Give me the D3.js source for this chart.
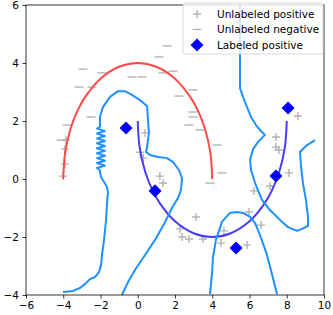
<!DOCTYPE html>
<html>
<head>
<meta charset="utf-8">
<script src="https://cdn.jsdelivr.net/npm/d3@7"></script>
<style>
  body { margin: 0; background: #fff; }
  svg { display: block; font-family: "DejaVu Sans", sans-serif; }
</style>
</head>
<body>
<div id="main"></div>
<script>
// tick values for both axes
const xTicks = [-6, -4, -2, 0, 2, 4, 6, 8, 10];
const yTicks = [-4, -2, 0, 2, 4, 6];

// the two "moons"
const upperMoon = [[-4, 0], [-3.9, 0.9], [-3.6, 1.75], [-3.2, 2.4], [-2.8, 2.85], [-2, 3.46], [-1, 3.87],
    [0, 4], [1, 3.87], [2, 3.46], [2.8, 2.85], [3.2, 2.4], [3.6, 1.75], [3.9, 0.9], [4, 0]];
const lowerMoon = [[0, 2], [0.1, 1.1], [0.4, 0.25], [0.8, -0.4], [1.2, -0.85], [2, -1.46], [3, -1.87],
    [4, -2], [5, -1.87], [6, -1.46], [6.8, -0.85], [7.2, -0.4], [7.6, 0.25], [7.9, 1.1], [8, 2]];

// unlabeled positive (+) points
const unlabeledPos = [[0.39, 1.59], [0.12, 0.92], [0.3, 0.72], [1.19, 0.1], [1.36, -0.14], [3.13, -1.31],
    [2.27, -1.72], [2.38, -2.0], [2.75, -2.07], [3.5, -2.07], [4.47, -2.21], [4.63, -1.79], [5.87, -2.28],
    [5.97, -1.14], [6.62, -1.59], [6.24, -0.41], [7.1, -0.24], [8.12, 0.21], [8.6, 2.17], [7.42, 1.45],
    [7.42, 1.1], [7.58, 1.0], [-3.85, 1.34], [-3.91, 1.03], [-3.91, 0.52], [-4.01, 0.1]];

// unlabeled negative (-) points
const unlabeledNeg = [[-2.94, 3.79], [-1.92, 3.66], [-3.15, 3.17], [-2.46, 3.17], [-0.31, 3.52], [0.23, 3.52],
    [1.14, 4.21], [1.57, 4.59], [1.36, 3.66], [1.89, 3.72], [2.97, 3.07], [2.21, 2.86], [2.97, 2.31],
    [2.97, 2.14], [2.75, 1.86], [3.34, 1.69], [4.25, 1.17], [-2.51, 2.14], [-3.8, 1.86], [-4.12, 1.34],
    [4.52, 0.21], [3.88, -0.14]];

// labeled positive points
const labeledPos = [[-0.63, 1.76], [0.93, -0.41], [5.28, -2.38], [7.42, 0.1], [8.07, 2.45]];

// decision boundary contours
const contourA = [[-4.01, -3.9], [-3.48, -3.86], [-3.1, -3.76], [-2.78, -3.59], [-2.56, -3.45], [-2.3, -3.38],
    [-2.08, -3.21], [-1.97, -2.97], [-1.92, -2.62], [-1.81, -2.1], [-1.7, -1.41], [-1.65, -0.83],
    [-1.6, -0.45], [-1.65, -0.28], [-1.81, -0.1], [-1.97, 0.07], [-2.03, 0.24],
    [-2.03, 0.3], [-2.19, 0.38], [-1.76, 0.46], [-2.19, 0.55], [-1.76, 0.63], [-2.19, 0.72], [-1.76, 0.8],
    [-2.19, 0.89], [-1.76, 0.97], [-2.19, 1.06], [-1.76, 1.14], [-2.19, 1.23], [-1.76, 1.31], [-2.19, 1.4],
    [-1.76, 1.48], [-2.19, 1.57], [-1.76, 1.65], [-2.19, 1.74], [-2.03, 1.8],
    [-2.03, 2.14], [-1.87, 2.48], [-1.49, 2.83], [-1.06, 3.03], [-0.68, 3.03], [-0.31, 2.9], [0.12, 2.72],
    [0.5, 2.52], [0.55, 2.03], [0.6, 1.59], [0.5, 1.1], [0.44, 0.93], [0.66, 0.83], [1.09, 0.76],
    [1.57, 0.72], [1.89, 0.59], [2.21, 0.31], [2.38, 0.03], [2.32, -0.38], [2.16, -0.66], [1.89, -0.93],
    [1.68, -1.21], [1.41, -1.55], [0.93, -2.1], [0.39, -2.62], [-0.15, -3.14], [-0.52, -3.55], [-0.85, -4.0]];
const contourB = [[5.49, 6.0], [5.49, 3.14], [5.65, 2.83], [5.87, 2.48], [6.08, 2.14], [6.35, 1.86],
    [6.56, 1.69], [6.83, 1.52], [6.46, 1.28], [6.19, 1.03], [6.03, 0.66], [6.08, 0.31], [6.3, -0.14],
    [6.67, -0.72], [7.1, -1.07], [7.64, -1.41], [8.07, -1.66], [8.55, -1.79], [8.82, -1.72], [9.14, -1.62],
    [9.14, -1.31], [9.03, -0.72], [8.87, -0.14], [8.77, 0.41], [8.71, 0.93], [9.03, 1.14], [9.52, 1.34]];
const contourC = [[3.88, -3.97], [3.99, -3.24], [4.04, -2.69], [4.2, -2.1], [4.52, -1.48], [4.95, -1.17],
    [5.33, -1.14], [5.65, -1.17], [6.03, -1.31], [6.3, -1.52], [6.56, -1.93], [6.89, -2.52], [7.15, -3.14],
    [7.48, -3.97]];
const contours = [contourA, contourB, contourC];

const legendLabels = ['Unlabeled positive', 'Unlabeled negative', 'Labeled positive'];

const width = 333, height = 315;
const margin = { left: 26, right: 9, top: 5, bottom: 20 };

const x = d3.scaleLinear().domain([-6, 10]).range([margin.left, width - margin.right]);
const y = d3.scaleLinear().domain([-4, 6]).range([height - margin.bottom, margin.top]);

const fmt = d => d < 0 ? '\u2212' + Math.abs(d) : String(d);

let svg = d3.select('#main')
    .append('svg')
        .attr('width', width)
        .attr('height', height);

const line = d3.line().x(d => x(d[0])).y(d => y(d[1]));
const smooth = d3.line().x(d => x(d[0])).y(d => y(d[1])).curve(d3.curveCatmullRom);

const plot = svg.append('g');

// unlabeled markers
plot.selectAll('.pos')
    .data(unlabeledPos)
    .enter()
    .append('path')
        .attr('class', 'pos')
        .attr('transform', d => `translate(${x(d[0])},${y(d[1])})`)
        .attr('d', 'M-4,0H4M0,-4V4')
        .attr('stroke', '#b3b3b3')
        .attr('stroke-width', 1.4)
        .attr('fill', 'none');

plot.selectAll('.neg')
    .data(unlabeledNeg)
    .enter()
    .append('path')
        .attr('class', 'neg')
        .attr('transform', d => `translate(${x(d[0])},${y(d[1])})`)
        .attr('d', 'M-4.5,0H4.5')
        .attr('stroke', '#b3b3b3')
        .attr('stroke-width', 1.4)
        .attr('fill', 'none');

// moons
plot.append('path')
    .attr('d', smooth(upperMoon))
    .attr('fill', 'none')
    .attr('stroke', '#ff4a4a')
    .attr('stroke-width', 2);

plot.append('path')
    .attr('d', smooth(lowerMoon))
    .attr('fill', 'none')
    .attr('stroke', '#4a3cf0')
    .attr('stroke-width', 2);

// contour lines
plot.selectAll('.contour')
    .data(contours)
    .enter()
    .append('path')
        .attr('class', 'contour')
        .attr('d', line)
        .attr('fill', 'none')
        .attr('stroke', '#1e90ff')
        .attr('stroke-width', 2)
        .attr('stroke-linejoin', 'round');

// labeled diamonds
const diamond = d3.symbol(d3.symbolSquare, 85);
plot.selectAll('.lab')
    .data(labeledPos)
    .enter()
    .append('path')
        .attr('class', 'lab')
        .attr('transform', d => `translate(${x(d[0])},${y(d[1])}) rotate(45)`)
        .attr('d', diamond)
        .attr('fill', '#0000ff');

// axes
const xAxis = svg.append('g')
    .attr('transform', `translate(0,${y(-4)})`)
    .call(d3.axisBottom(x).tickValues(xTicks).tickSize(3.5).tickPadding(3.5).tickFormat(fmt));
const yAxis = svg.append('g')
    .attr('transform', `translate(${x(-6)},0)`)
    .call(d3.axisLeft(y).tickValues(yTicks).tickSize(3.5).tickPadding(3.5).tickFormat(fmt));
[xAxis, yAxis].forEach(a => {
    a.select('.domain').remove();
    a.selectAll('text').attr('font-size', 10.5).attr('font-family', '"DejaVu Sans", sans-serif').attr('fill', '#000');
    a.selectAll('line').attr('stroke', '#000').attr('stroke-width', 0.8);
});

svg.append('rect')
    .attr('x', x(-6)).attr('y', y(6))
    .attr('width', x(10) - x(-6)).attr('height', y(-4) - y(6))
    .attr('fill', 'none')
    .attr('stroke', '#000')
    .attr('stroke-width', 0.8);

// legend
const legend = svg.append('g').attr('transform', 'translate(183,3)');
legend.append('rect')
    .attr('width', 140).attr('height', 51)
    .attr('rx', 2)
    .attr('fill', '#fff').attr('fill-opacity', 0.8)
    .attr('stroke', '#d0d0d0').attr('stroke-width', 0.8);

const rows = legend.selectAll('.row')
    .data(legendLabels)
    .enter()
    .append('g')
        .attr('class', 'row')
        .attr('transform', (d, i) => `translate(14,${11 + i * 15.5})`);

rows.append('text')
    .attr('x', 20)
    .attr('dy', '0.35em')
    .attr('font-size', 10.5)
    .text(d => d);

rows.filter((d, i) => i === 0).append('path')
    .attr('d', 'M-4,0H4M0,-4V4').attr('stroke', '#b3b3b3').attr('stroke-width', 1.4);
rows.filter((d, i) => i === 1).append('path')
    .attr('d', 'M-4.5,0H4.5').attr('stroke', '#b3b3b3').attr('stroke-width', 1.4);
rows.filter((d, i) => i === 2).append('path')
    .attr('transform', 'rotate(45)')
    .attr('d', diamond).attr('fill', '#0000ff');
</script>
</body>
</html>
